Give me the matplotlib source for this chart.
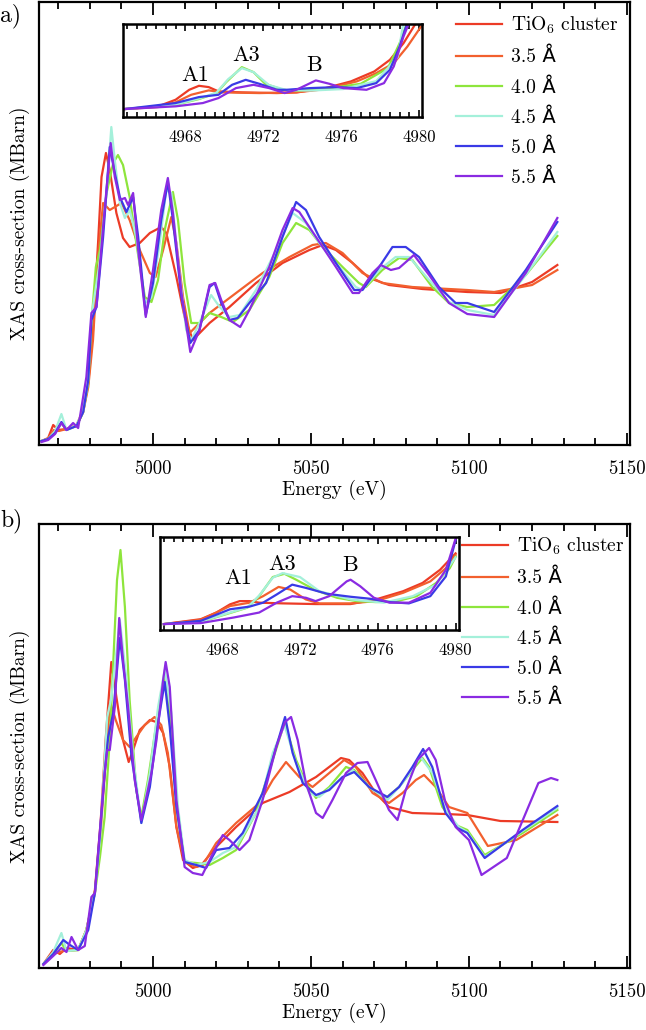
import matplotlib
matplotlib.use("Agg")
import matplotlib.pyplot as plt
from matplotlib.ticker import MultipleLocator

plt.rcParams['font.family'] = ['cmr10', 'DejaVu Sans']
plt.rcParams['mathtext.fontset'] = 'cm'
plt.rcParams['axes.formatter.use_mathtext'] = True

labels = ['TiO$_6$ cluster', '3.5 Å', '4.0 Å', '4.5 Å', '5.0 Å', '5.5 Å']
colors = ['#ec3b26', '#f2602e', '#8ee53c', '#a4f0da', '#3a3ae6', '#8a2be2']

# ---------------- panel a, main spectra ----------------
a_tio6_E = [4964.7, 4966.8, 4968.4, 4970.0, 4972.6, 4975.8, 4977.9, 4979.5, 4981.0, 4982.6, 4983.7, 4985.1, 4986.3, 4988.4, 4990.5, 4992.6, 4995.8, 4999.0, 5002.6, 5004.2, 5007.4, 5010.0, 5012.6, 5017.9, 5024.2, 5032.6, 5041.0, 5049.5, 5053.7, 5057.9, 5063.2, 5068.4, 5074.7, 5085.3, 5099.5, 5110, 5120, 5128]
a_tio6_y = [4, 7, 20, 15, 16, 20, 35, 62, 115, 202, 268, 292, 275, 232, 207, 198, 202, 212, 218, 212, 168, 128, 105, 122, 138, 162, 182, 195, 200, 195, 182, 167, 160, 156, 153, 152, 163, 180]

a_35_E = [4964.7, 4966.8, 4968.6, 4970.2, 4972.6, 4975.8, 4977.9, 4979.5, 4981.0, 4982.6, 4984.2, 4986.3, 4987.9, 4990.0, 4992.6, 4995.8, 4999.0, 5000.8, 5003.2, 5005.8, 5007.4, 5009.5, 5011.6, 5017.9, 5026.3, 5034.7, 5043.2, 5050.5, 5054.7, 5060.0, 5066.3, 5072.6, 5082.1, 5099.5, 5108, 5120, 5128]
a_35_y = [4, 6, 15, 14, 16, 19, 33, 58, 105, 190, 242, 235, 238, 242, 225, 195, 172, 168, 195, 228, 202, 148, 112, 132, 152, 172, 188, 200, 202, 192, 172, 162, 158, 155, 153, 160, 175]

a_40_E = [4964.7, 4966.8, 4969.0, 4971.0, 4972.6, 4975.8, 4977.9, 4979.5, 4980.5, 4981.9, 4983.2, 4985.3, 4987.4, 4988.9, 4990.5, 4992.6, 4994.7, 4997.4, 4999.5, 5001.6, 5003.7, 5006.3, 5007.9, 5010.0, 5012.1, 5014.7, 5017.9, 5021.6, 5025.3, 5030.5, 5036.8, 5041.0, 5045.3, 5049.5, 5053.7, 5060.0, 5065.2, 5067.4, 5072.6, 5077.9, 5082.1, 5088.4, 5093.7, 5099.5, 5108, 5118, 5128]
a_40_y = [4, 6, 13, 22, 15, 19, 33, 62, 122, 178, 195, 252, 282, 290, 280, 248, 202, 148, 143, 165, 215, 253, 225, 162, 122, 122, 132, 128, 123, 135, 168, 202, 222, 215, 198, 178, 162, 158, 175, 187, 185, 158, 142, 138, 140, 170, 209]

a_45_E = [4964.7, 4966.8, 4969.0, 4971.0, 4972.6, 4975.8, 4977.9, 4979.5, 4980.5, 4983.2, 4985.3, 4986.8, 4987.9, 4989.5, 4991.1, 4992.6, 4994.7, 4997.4, 4999.5, 5002.1, 5004.2, 5005.8, 5007.9, 5010.5, 5012.1, 5014.7, 5018.4, 5021.1, 5024.2, 5027.4, 5032.6, 5039.0, 5044.2, 5048.4, 5052.6, 5057.9, 5064.2, 5066.3, 5071.6, 5076.8, 5081.1, 5087.4, 5093.7, 5099.5, 5108, 5118, 5128]
a_45_y = [4, 6, 14, 31, 15, 20, 34, 65, 128, 185, 252, 318, 285, 242, 227, 235, 208, 142, 148, 202, 255, 252, 185, 115, 105, 122, 150, 138, 128, 130, 155, 195, 232, 222, 202, 182, 158, 155, 175, 188, 188, 165, 143, 135, 130, 170, 213]

a_50_E = [4964.7, 4966.8, 4969.0, 4971.0, 4972.6, 4975.8, 4977.9, 4979.5, 4980.5, 4982.1, 4984.2, 4986.3, 4987.9, 4989.5, 4991.6, 4993.7, 4995.3, 4997.7, 5000.0, 5002.6, 5004.7, 5006.3, 5009.0, 5011.8, 5014.7, 5017.9, 5019.5, 5021.6, 5024.2, 5026.8, 5030.5, 5035.8, 5041.0, 5045.3, 5048.4, 5052.6, 5057.9, 5063.7, 5066.3, 5071.6, 5075.8, 5080.0, 5084.2, 5090.5, 5095.8, 5099.5, 5108, 5118, 5128]
a_50_y = [4, 6, 12, 23, 15, 19, 33, 65, 125, 138, 208, 298, 272, 248, 233, 248, 208, 130, 162, 225, 263, 225, 148, 102, 115, 158, 162, 142, 125, 127, 142, 162, 208, 243, 235, 208, 182, 155, 155, 178, 198, 198, 188, 158, 142, 142, 133, 175, 223]

a_55_E = [4964.7, 4966.8, 4969.0, 4971.0, 4972.6, 4974.7, 4976.3, 4978.9, 4980.5, 4982.1, 4984.2, 4986.6, 4987.9, 4989.5, 4991.1, 4992.1, 4993.7, 4995.3, 4997.7, 5000.0, 5002.6, 5004.7, 5006.3, 5009.0, 5011.8, 5014.7, 5017.9, 5019.7, 5021.6, 5024.2, 5027.6, 5030.5, 5036.8, 5041.0, 5044.2, 5046.3, 5051.6, 5057.9, 5063.2, 5065.2, 5069.5, 5072.1, 5075.3, 5077.9, 5082.6, 5087.4, 5093.7, 5099.5, 5108, 5118, 5128]
a_55_y = [3, 5, 11, 22, 15, 22, 17, 68, 132, 138, 218, 302, 268, 245, 247, 240, 252, 195, 128, 175, 235, 267, 232, 152, 93, 115, 160, 162, 145, 125, 118, 135, 178, 215, 237, 233, 208, 178, 152, 152, 172, 180, 175, 177, 190, 170, 142, 131, 128, 172, 227]

# ---------------- panel a, inset (pre-edge) ----------------
ia_tio6_E = [4964.9, 4966.6, 4967.5, 4968.2, 4968.7, 4969.2, 4969.7, 4970.9, 4972.7, 4973.7, 4975.2, 4976.5, 4977.7, 4978.5, 4979.2, 4979.8, 4980.1]
ia_tio6_y = [8, 10.7, 17.3, 27.3, 31.3, 30, 25.7, 24.7, 24, 24.7, 29, 35.7, 45.7, 57.3, 74, 93, 102]
ia_35_E = [4964.9, 4966.6, 4967.5, 4968.3, 4969.2, 4969.9, 4971.8, 4973.7, 4975.2, 4976.8, 4977.8, 4978.7, 4979.4, 4980.1]
ia_35_y = [8, 10, 14.7, 22.3, 26.7, 24.7, 24, 24.7, 28, 35.7, 44, 54, 70.7, 90.7]
ia_40_E = [4964.9, 4967.5, 4968.7, 4969.6, 4970.1, 4970.9, 4971.5, 4972.1, 4973.0, 4973.7, 4975.2, 4977.0, 4978.4, 4979.0, 4979.4]
ia_40_y = [8, 12.3, 18, 24, 35, 50, 45, 33.3, 27.3, 26.5, 28.3, 33.3, 49, 74, 95]
ia_45_E = [4964.9, 4967.5, 4968.7, 4969.6, 4970.2, 4970.9, 4971.5, 4972.3, 4973.2, 4974.4, 4976.1, 4977.8, 4978.9, 4979.2]
ia_45_y = [8, 12.5, 18.5, 24.5, 38, 49, 45, 32, 27, 26.5, 28, 36, 60, 95]
ia_50_E = [4964.9, 4967.5, 4968.7, 4969.7, 4970.4, 4971.1, 4971.8, 4972.7, 4973.2, 4974.4, 4975.8, 4976.8, 4977.8, 4978.5, 4979.0, 4979.4]
ia_50_y = [8, 14, 20, 22.3, 32.3, 37.3, 33.3, 27.3, 27.3, 29, 30, 29, 34, 47.3, 70.7, 95]
ia_55_E = [4964.9, 4967.5, 4968.9, 4969.7, 4970.6, 4971.5, 4972.3, 4973.1, 4973.7, 4974.7, 4975.4, 4976.1, 4977.3, 4978.2, 4978.7, 4979.2, 4979.5]
ia_55_y = [8, 10.7, 14, 19, 29, 32.3, 29, 24, 27.3, 36.7, 33.3, 29, 27.3, 34, 50.7, 80.7, 95]

# ---------------- panel b, main spectra ----------------
b_tio6_E = [4965.3, 4968.4, 4970.5, 4972.6, 4976.3, 4978.9, 4981.6, 4983.4, 4985.0, 4986.8, 4988.4, 4990.5, 4992.3, 4993.7, 4995.8, 4999.0, 5001.1, 5003.2, 5005.3, 5007.4, 5009.5, 5012.6, 5015.3, 5020.0, 5026.3, 5034.7, 5043.2, 5051.6, 5059.5, 5062.1, 5066.3, 5070.5, 5074.7, 5082.1, 5092.6, 5099.5, 5110, 5128]
b_tio6_y = [4, 18, 14, 20, 18, 38, 78, 145, 228, 306, 271, 228, 206, 218, 238, 248, 246, 235, 201, 141, 108, 100, 103, 121, 141, 165, 176, 191, 210, 208, 195, 175, 161, 155, 154, 153, 147, 146]

b_35_E = [4965.3, 4968.4, 4971.6, 4976.3, 4978.9, 4981.6, 4983.4, 4985.3, 4986.5, 4988.2, 4990.5, 4992.6, 4994.7, 4997.4, 5000.5, 5002.6, 5004.7, 5007.4, 5010.0, 5013.7, 5015.8, 5020.0, 5026.3, 5033.7, 5037.9, 5042.1, 5046.3, 5050.5, 5055.8, 5060.5, 5064.2, 5069.5, 5074.7, 5079.0, 5083.2, 5085.8, 5089.5, 5093.7, 5099.5, 5106, 5115, 5128]
b_35_y = [4, 14, 17, 18, 38, 75, 135, 221, 265, 248, 228, 221, 231, 243, 251, 243, 215, 141, 106, 101, 103, 125, 145, 165, 188, 206, 191, 181, 195, 208, 201, 175, 165, 175, 188, 193, 181, 161, 155, 122, 128, 153]

b_40_E = [4965.3, 4968.4, 4971.0, 4972.6, 4976.3, 4978.9, 4981.6, 4983.2, 4984.7, 4986.3, 4988.6, 4989.7, 4991.1, 4992.6, 4994.7, 4996.3, 4998.4, 5001.1, 5003.7, 5005.3, 5007.4, 5010.0, 5013.7, 5017.9, 5022.1, 5026.3, 5032.6, 5037.9, 5041.6, 5045.3, 5048.4, 5051.6, 5055.8, 5061.1, 5063.7, 5068.4, 5073.7, 5077.9, 5082.1, 5085.3, 5087.4, 5091.6, 5095.8, 5099.5, 5105, 5117, 5128]
b_40_y = [4, 14, 25, 17, 18, 38, 75, 111, 151, 228, 388, 418, 361, 268, 178, 151, 188, 245, 295, 255, 161, 106, 105, 103, 110, 118, 155, 208, 245, 208, 185, 170, 181, 201, 198, 181, 170, 181, 198, 210, 201, 161, 143, 138, 113, 135, 158]

b_45_E = [4965.3, 4968.4, 4971.0, 4972.6, 4976.3, 4978.9, 4981.6, 4983.2, 4985.5, 4986.8, 4989.5, 4991.6, 4993.7, 4996.3, 4999.0, 5001.6, 5003.7, 5005.8, 5007.9, 5010.0, 5013.7, 5017.9, 5022.1, 5026.3, 5033.7, 5037.9, 5041.6, 5045.3, 5049.5, 5052.6, 5057.9, 5063.2, 5068.4, 5074.2, 5079.0, 5084.7, 5088.4, 5092.6, 5096.8, 5099.5, 5105, 5117, 5128]
b_45_y = [4, 16, 35, 17, 18, 38, 75, 128, 251, 270, 348, 288, 211, 145, 195, 261, 298, 255, 161, 108, 103, 106, 115, 121, 161, 215, 243, 205, 175, 171, 185, 198, 181, 168, 185, 211, 195, 158, 141, 136, 111, 137, 160]

b_50_E = [4965.3, 4968.4, 4971.6, 4973.7, 4976.3, 4979.5, 4981.6, 4983.2, 4984.7, 4985.8, 4987.4, 4989.5, 4991.1, 4993.2, 4996.3, 4999.0, 5001.6, 5003.7, 5005.3, 5007.4, 5010.0, 5013.7, 5016.8, 5020.0, 5024.2, 5028.4, 5034.7, 5039.0, 5041.8, 5044.2, 5047.4, 5051.6, 5055.8, 5060.0, 5063.7, 5068.4, 5074.2, 5077.9, 5082.1, 5085.5, 5088.4, 5092.6, 5096.3, 5099.5, 5105, 5117, 5128]
b_50_y = [4, 14, 28, 23, 18, 38, 75, 135, 195, 231, 255, 330, 288, 211, 145, 181, 245, 286, 241, 161, 106, 103, 100, 118, 120, 135, 175, 221, 251, 215, 185, 173, 178, 191, 196, 181, 171, 181, 201, 219, 201, 155, 140, 135, 110, 138, 162]

b_55_E = [4965.3, 4968.4, 4971.0, 4972.6, 4974.2, 4976.3, 4978.4, 4980.5, 4981.6, 4983.2, 4984.7, 4985.5, 4986.3, 4987.9, 4989.3, 4990.5, 4992.1, 4994.2, 4996.3, 4997.9, 4999.5, 5001.1, 5003.2, 5004.0, 5005.3, 5007.4, 5010.0, 5012.6, 5015.6, 5018.4, 5022.1, 5024.2, 5027.4, 5030.5, 5034.7, 5039.0, 5041.8, 5043.7, 5045.8, 5048.4, 5051.6, 5053.7, 5056.8, 5061.1, 5064.7, 5067.9, 5070.5, 5074.7, 5077.4, 5080.0, 5083.7, 5087.4, 5089.5, 5092.6, 5095.8, 5100.0, 5104, 5112, 5122, 5126, 5128]
b_55_y = [3, 12, 20, 16, 31, 18, 22, 71, 75, 138, 195, 218, 218, 261, 350, 308, 261, 188, 148, 171, 195, 228, 288, 306, 281, 168, 101, 95, 93, 111, 133, 128, 118, 128, 168, 221, 246, 251, 228, 185, 155, 150, 168, 195, 205, 206, 188, 158, 148, 178, 208, 220, 208, 165, 141, 128, 93, 110, 185, 190, 188]

# ---------------- panel b, inset (pre-edge) ----------------
ib_tio6_E = [4965.0, 4966.9, 4967.7, 4968.4, 4968.9, 4969.4, 4969.9, 4971.1, 4972.8, 4974.6, 4975.9, 4977.3, 4978.3, 4979.2, 4980.0]
ib_tio6_y = [6, 11, 17.7, 26, 29.3, 29.3, 27.7, 27, 26.3, 26.3, 31, 39.3, 47.7, 61, 77.7]
ib_35_E = [4965.0, 4966.9, 4968.4, 4969.4, 4970.1, 4970.9, 4971.5, 4972.3, 4973.0, 4974.6, 4975.9, 4977.3, 4978.7, 4979.5, 4980.0]
ib_35_y = [6, 10.3, 24.3, 27.7, 34.3, 43.7, 41, 31, 27, 27, 29.3, 37.7, 49.3, 62.7, 76]
ib_40_E = [4965.0, 4966.9, 4968.2, 4969.3, 4969.9, 4970.6, 4971.2, 4971.8, 4972.8, 4973.9, 4974.9, 4975.9, 4977.0, 4978.0, 4979.0, 4979.7, 4980.0]
ib_40_y = [6, 8.3, 16, 22.7, 34.3, 53.7, 57, 51, 40.3, 32.7, 29.3, 28.3, 29.3, 34.3, 47.7, 62.7, 74.3]
ib_45_E = [4965.0, 4966.9, 4968.2, 4969.3, 4969.9, 4970.6, 4971.1, 4972.0, 4973.0, 4974.6, 4976.3, 4977.8, 4979.0, 4980.0]
ib_45_y = [6, 8.5, 16.5, 23, 35, 53, 57.7, 53.7, 39.3, 31, 27.7, 34.3, 46, 73.7]
ib_50_E = [4965.0, 4966.9, 4968.4, 4969.4, 4970.1, 4970.8, 4971.6, 4972.3, 4973.4, 4974.6, 4975.6, 4976.6, 4977.6, 4978.7, 4979.5, 4980.0]
ib_50_y = [6, 9.3, 21, 23.7, 27.7, 36, 46, 42.7, 36.7, 33.7, 31.7, 28.3, 27, 34.3, 54.3, 91]
ib_55_E = [4965.0, 4966.9, 4968.6, 4969.9, 4970.8, 4971.6, 4972.3, 4972.8, 4973.5, 4974.4, 4974.6, 4975.1, 4975.8, 4976.6, 4977.6, 4978.7, 4979.5, 4980.0]
ib_55_y = [6, 7, 12.7, 17.7, 27.7, 34.3, 32.7, 29.3, 34.3, 49.3, 51, 44.3, 32.7, 27.7, 27.7, 37.7, 61, 92.7]

main_ticks = [5000, 5050, 5100, 5150]
inset_ticks = [4968, 4972, 4976, 4980]
peak_names = ['A1', 'A3', 'B']
a_peak_E = [4968.5, 4971.1, 4974.6]
a_peak_y = [42, 62, 52]
b_peak_E = [4968.8, 4971.1, 4974.6]
b_peak_y = [52, 67, 66]

W, H = 646, 1030
fig = plt.figure(figsize=(W / 100, H / 100), dpi=100)


def fx(px):
    return px / W


def fy(py):
    return 1 - py / H


def style_main(ax):
    ax.set_xlim(4964, 5151)
    ax.set_yticks([])
    ax.set_xticks(main_ticks)
    ax.set_xticklabels([str(t) for t in main_ticks])
    ax.xaxis.set_minor_locator(MultipleLocator(10))
    ax.tick_params(axis='x', which='both', direction='in', top=True, bottom=True,
                   labelsize=13.5, pad=11, width=1.3)
    ax.tick_params(axis='x', which='major', length=9)
    ax.tick_params(axis='x', which='minor', length=5)
    for s in ax.spines.values():
        s.set_linewidth(1.6)
    ax.set_xlabel('Energy (eV)', fontsize=14, labelpad=1)
    ax.set_ylabel('XAS cross-section (MBarn)', fontsize=14, labelpad=7)


def style_inset(ax, ymax):
    ax.set_xlim(4964.8, 4980.15)
    ax.set_ylim(0, ymax)
    ax.set_yticks([])
    ax.set_xticks(inset_ticks)
    ax.set_xticklabels([str(t) for t in inset_ticks])
    ax.xaxis.set_minor_locator(MultipleLocator(0.5))
    ax.tick_params(axis='x', which='both', direction='in', top=True, bottom=True,
                   labelsize=12, pad=9, width=1.2)
    ax.tick_params(axis='x', which='major', length=5)
    ax.tick_params(axis='x', which='minor', length=3.5)
    for s in ax.spines.values():
        s.set_linewidth(1.8)


legend_kw = dict(loc='upper left', bbox_transform=fig.transFigure, frameon=False,
                 fontsize=14, handlelength=2.35, handletextpad=0.5,
                 labelspacing=0.6, borderpad=0, borderaxespad=0)

# ---- panel a ----
axA = fig.add_axes([fx(39.3), fy(445), fx(630) - fx(39.3), fy(2) - fy(445)])
a_sets = [(a_tio6_E, a_tio6_y), (a_35_E, a_35_y), (a_40_E, a_40_y),
          (a_45_E, a_45_y), (a_50_E, a_50_y), (a_55_E, a_55_y)]
for (e, y), c, lab in zip(a_sets, colors, labels):
    axA.plot(e, y, color=c, lw=1.6, label=lab, solid_joinstyle='round')
axA.set_ylim(0, 443)
style_main(axA)
axA.legend(bbox_to_anchor=(fx(456), fy(15)), **legend_kw)

insA = fig.add_axes([fx(123), fy(117), fx(422) - fx(123), fy(24) - fy(117)])
ia_sets = [(ia_tio6_E, ia_tio6_y), (ia_35_E, ia_35_y), (ia_40_E, ia_40_y),
           (ia_45_E, ia_45_y), (ia_50_E, ia_50_y), (ia_55_E, ia_55_y)]
for (e, y), c in zip(ia_sets, colors):
    insA.plot(e, y, color=c, lw=1.6, solid_joinstyle='round')
style_inset(insA, 93.3)
for n, e, y in zip(peak_names, a_peak_E, a_peak_y):
    insA.text(e, y, n, fontsize=16, ha='center', va='center')

# ---- panel b ----
axB = fig.add_axes([fx(39.3), fy(968), fx(630) - fx(39.3), fy(524) - fy(968)])
b_sets = [(b_tio6_E, b_tio6_y), (b_35_E, b_35_y), (b_40_E, b_40_y),
          (b_45_E, b_45_y), (b_50_E, b_50_y), (b_55_E, b_55_y)]
for (e, y), c, lab in zip(b_sets, colors, labels):
    axB.plot(e, y, color=c, lw=1.6, label=lab, solid_joinstyle='round')
axB.set_ylim(0, 444)
style_main(axB)
axB.legend(bbox_to_anchor=(fx(462), fy(536)), **legend_kw)

insB = fig.add_axes([fx(160), fy(630), fx(458.5) - fx(160), fy(537) - fy(630)])
ib_sets = [(ib_tio6_E, ib_tio6_y), (ib_35_E, ib_35_y), (ib_40_E, ib_40_y),
           (ib_45_E, ib_45_y), (ib_50_E, ib_50_y), (ib_55_E, ib_55_y)]
for (e, y), c in zip(ib_sets, colors):
    insB.plot(e, y, color=c, lw=1.6, solid_joinstyle='round')
style_inset(insB, 94.3)
for n, e, y in zip(peak_names, b_peak_E, b_peak_y):
    insB.text(e, y, n, fontsize=16, ha='center', va='center')

fig.text(fx(0), fy(16), 'a)', fontsize=17, ha='left', va='center')
fig.text(fx(0), fy(521), 'b)', fontsize=17, ha='left', va='center')

fig.savefig('out.png', dpi=100)
